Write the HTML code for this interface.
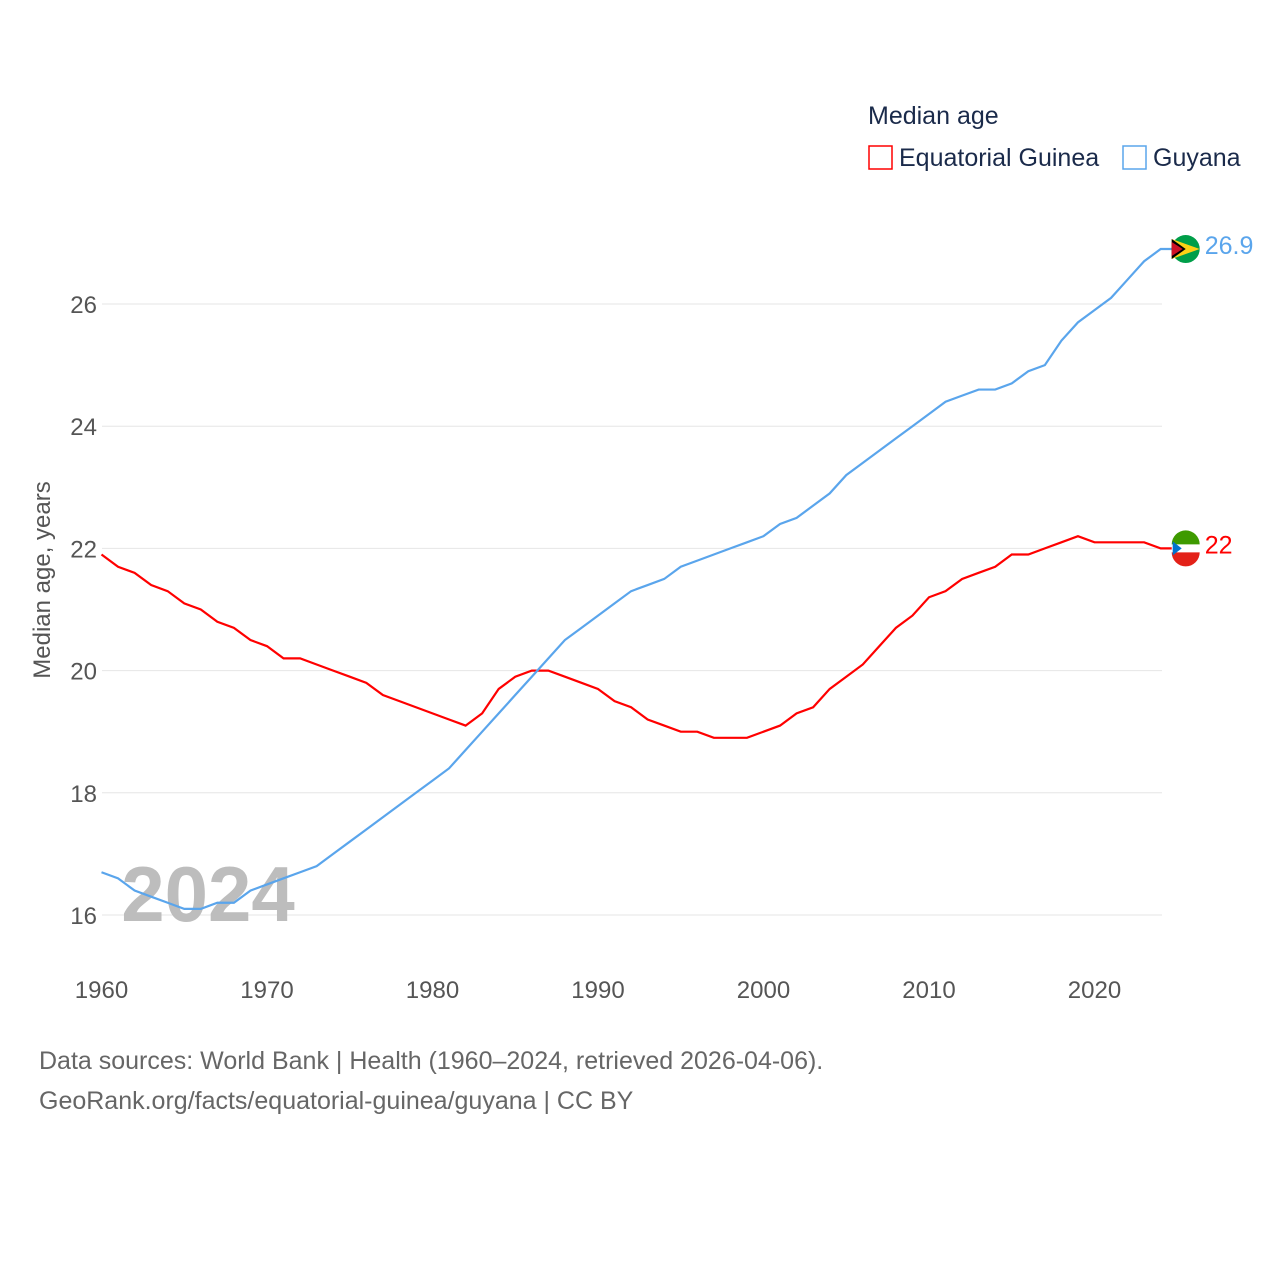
<!DOCTYPE html>
<html><head><meta charset="utf-8"><style>
body{margin:0;background:#fff;font-family:"Liberation Sans",sans-serif}
svg text{font-family:"Liberation Sans",sans-serif}
</style></head><body>
<svg id="chart" width="1280" height="1280">
<g id="grid"></g>
<g id="xticks"></g>
<text x="208" y="921" font-size="78" font-weight="bold" fill="#bdbdbd" text-anchor="middle">2024</text>
<text transform="translate(50,580) rotate(-90)" font-size="24" fill="#555" text-anchor="middle">Median age, years</text>
<g id="lines"></g>
<g>
<text x="868" y="124" font-size="25" fill="#1a2a4a">Median age</text>
<g><rect x="869" y="146" width="23" height="23" fill="none" stroke="#f00" stroke-width="1.5"/><text x="899" y="166" font-size="25" fill="#1a2a4a">Equatorial Guinea</text></g>
<g><rect x="1123" y="146" width="23" height="23" fill="none" stroke="#5aa5ec" stroke-width="1.5"/><text x="1153" y="166" font-size="25" fill="#1a2a4a">Guyana</text></g>
</g>
<text x="39" y="1069" font-size="25" fill="#666">Data sources: World Bank | Health (1960–2024, retrieved 2026-04-06).</text>
<text x="39" y="1109" font-size="25" fill="#666">GeoRank.org/facts/equatorial-guinea/guyana | CC BY</text>
</svg>
<script>
const years=[];for(let y=1960;y<=2024;y++)years.push(y);
const eqGuinea=[21.9,21.7,21.6,21.4,21.3,21.1,21.0,20.8,20.7,20.5,20.4,20.2,20.2,20.1,20.0,19.9,19.8,19.6,19.5,19.4,19.3,19.2,19.1,19.3,19.7,19.9,20.0,20.0,19.9,19.8,19.7,19.5,19.4,19.2,19.1,19.0,19.0,18.9,18.9,18.9,19.0,19.1,19.3,19.4,19.7,19.9,20.1,20.4,20.7,20.9,21.2,21.3,21.5,21.6,21.7,21.9,21.9,22.0,22.1,22.2,22.1,22.1,22.1,22.1,22.0];
const guyana=[16.7,16.6,16.4,16.3,16.2,16.1,16.1,16.2,16.2,16.4,16.5,16.6,16.7,16.8,17.0,17.2,17.4,17.6,17.8,18.0,18.2,18.4,18.7,19.0,19.3,19.6,19.9,20.2,20.5,20.7,20.9,21.1,21.3,21.4,21.5,21.7,21.8,21.9,22.0,22.1,22.2,22.4,22.5,22.7,22.9,23.2,23.4,23.6,23.8,24.0,24.2,24.4,24.5,24.6,24.6,24.7,24.9,25.0,25.4,25.7,25.9,26.1,26.4,26.7,26.9];
const yTicks=[16,18,20,22,24,26];
const xTicks=[1960,1970,1980,1990,2000,2010,2020];
const X=y=>101.5+(y-1960)*16.55;
const Y=v=>915-(v-16)*61.1;
const NS='http://www.w3.org/2000/svg';
function mk(tag,attrs,parent){const e=document.createElementNS(NS,tag);for(const k in attrs)e.setAttribute(k,attrs[k]);parent.appendChild(e);return e;}
const grid=document.getElementById('grid');
yTicks.forEach(t=>{
 const l=mk('line',{x1:102,x2:1162,y1:Y(t),y2:Y(t),stroke:'#e6e6e6','stroke-width':1},grid);
 
 
 const tx=mk('text',{x:97,y:Y(t)+9,'font-size':24,fill:'#555','text-anchor':'end'},grid);tx.textContent=t;
 
 
});
const xt=document.getElementById('xticks');
xTicks.forEach(t=>{
 const tx=mk('text',{x:X(t),y:998,'font-size':24,fill:'#555','text-anchor':'middle'},xt);tx.textContent=t;
 
 
});
const lines=document.getElementById('lines');
function series(vals,color,name,label,flag){
 const last=vals[vals.length-1],cx=X(2024)+25,cy=Y(last);
 const pts=vals.map((v,i)=>X(years[i])+','+Y(v));
 pts.push((cx-12)+','+cy);
 const p=mk('polyline',{points:pts.join(' '),fill:'none',stroke:color,'stroke-width':2.2},lines);
 
 
 const g=mk('g',{},lines);
 
 
 flag(g,cx,cy);
 const t=mk('text',{x:cx+19,y:cy+5,'font-size':25,fill:color},lines);t.textContent=label;
 
 
}
series(eqGuinea,'#f00','equatorial-guinea','22',(g,cx,cy)=>{
 mk('circle',{cx,cy,r:14,fill:'#fff'},g);
 mk('path',{d:`M${cx-14} ${cy-4}A14 14 0 0 1 ${cx+14} ${cy-4}Z`,fill:'#3e9a00'},g);
 mk('path',{d:`M${cx-14} ${cy+4}A14 14 0 0 0 ${cx+14} ${cy+4}Z`,fill:'#e32118'},g);
 mk('path',{d:`M${cx-13} ${cy-7}L${cx-4} ${cy}L${cx-13} ${cy+7}Z`,fill:'#0073ce'},g);
});
series(guyana,'#5aa5ec','guyana','26.9',(g,cx,cy)=>{
 mk('circle',{cx,cy,r:14,fill:'#009e49'},g);
 mk('path',{d:`M${cx-14} ${cy-10}L${cx+14} ${cy}L${cx-14} ${cy+10}Z`,fill:'#fcd116'},g);
 mk('path',{d:`M${cx-14} ${cy-10}L${cx} ${cy}L${cx-14} ${cy+10}Z`,fill:'#000'},g);
 mk('path',{d:`M${cx-14} ${cy-7}L${cx-3} ${cy}L${cx-14} ${cy+7}Z`,fill:'#ce1126'},g);
});
</script>
</body></html>
